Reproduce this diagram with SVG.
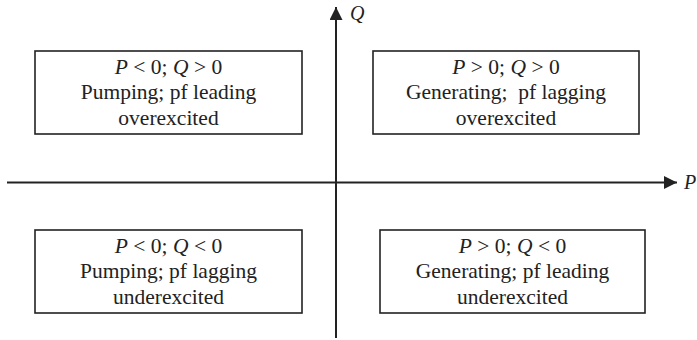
<svg xmlns="http://www.w3.org/2000/svg" width="697" height="340" viewBox="0 0 697 340">
<style>
.box{fill:#fff;stroke:#222;stroke-width:1.6}
.ax{stroke:#222;stroke-width:2;fill:none}
text{font-family:"Liberation Serif","Times New Roman",serif;font-size:21.5px;fill:#222;text-anchor:middle}
.i{font-style:italic}
.lbl{text-anchor:start;font-style:italic;font-size:20px}
</style>
<defs>
<marker id="arr" viewBox="0 0 13 13" refX="13" refY="6.5" markerWidth="13" markerHeight="13" markerUnits="userSpaceOnUse" orient="auto">
<path d="M0,0 L13,6.5 L0,13 Z" fill="#222"/>
</marker>
</defs>
<rect width="697" height="340" fill="#fff"/>
<g id="connectors">
<line class="ax" x1="7" y1="182.5" x2="677" y2="182.5" marker-end="url(#arr)"/>
<line class="ax" x1="336" y1="338" x2="336" y2="7" marker-end="url(#arr)"/>
<text class="lbl" x="350" y="20">Q</text>
<text class="lbl" x="684" y="189">P</text>
</g>
<g id="q2">
<rect class="box" x="35" y="51" width="267" height="83"/>
<text x="168.5" y="74"><tspan class="i">P</tspan> &lt; 0; <tspan class="i">Q</tspan> &gt; 0</text>
<text x="168.5" y="98.5">Pumping; pf leading</text>
<text x="168.5" y="124.5">overexcited</text>
</g>
<g id="q1">
<rect class="box" x="373" y="51" width="266" height="83"/>
<text x="506" y="74"><tspan class="i">P</tspan> &gt; 0; <tspan class="i">Q</tspan> &gt; 0</text>
<text x="506" y="98.5" xml:space="preserve">Generating;  pf lagging</text>
<text x="506" y="124.5">overexcited</text>
</g>
<g id="q3">
<rect class="box" x="35" y="230" width="267" height="83"/>
<text x="168.5" y="253"><tspan class="i">P</tspan> &lt; 0; <tspan class="i">Q</tspan> &lt; 0</text>
<text x="168.5" y="277.5">Pumping; pf lagging</text>
<text x="168.5" y="303.5">underexcited</text>
</g>
<g id="q4">
<rect class="box" x="380" y="230" width="265" height="83"/>
<text x="512.5" y="253"><tspan class="i">P</tspan> &gt; 0; <tspan class="i">Q</tspan> &lt; 0</text>
<text x="512.5" y="277.5">Generating; pf leading</text>
<text x="512.5" y="303.5">underexcited</text>
</g>
</svg>
